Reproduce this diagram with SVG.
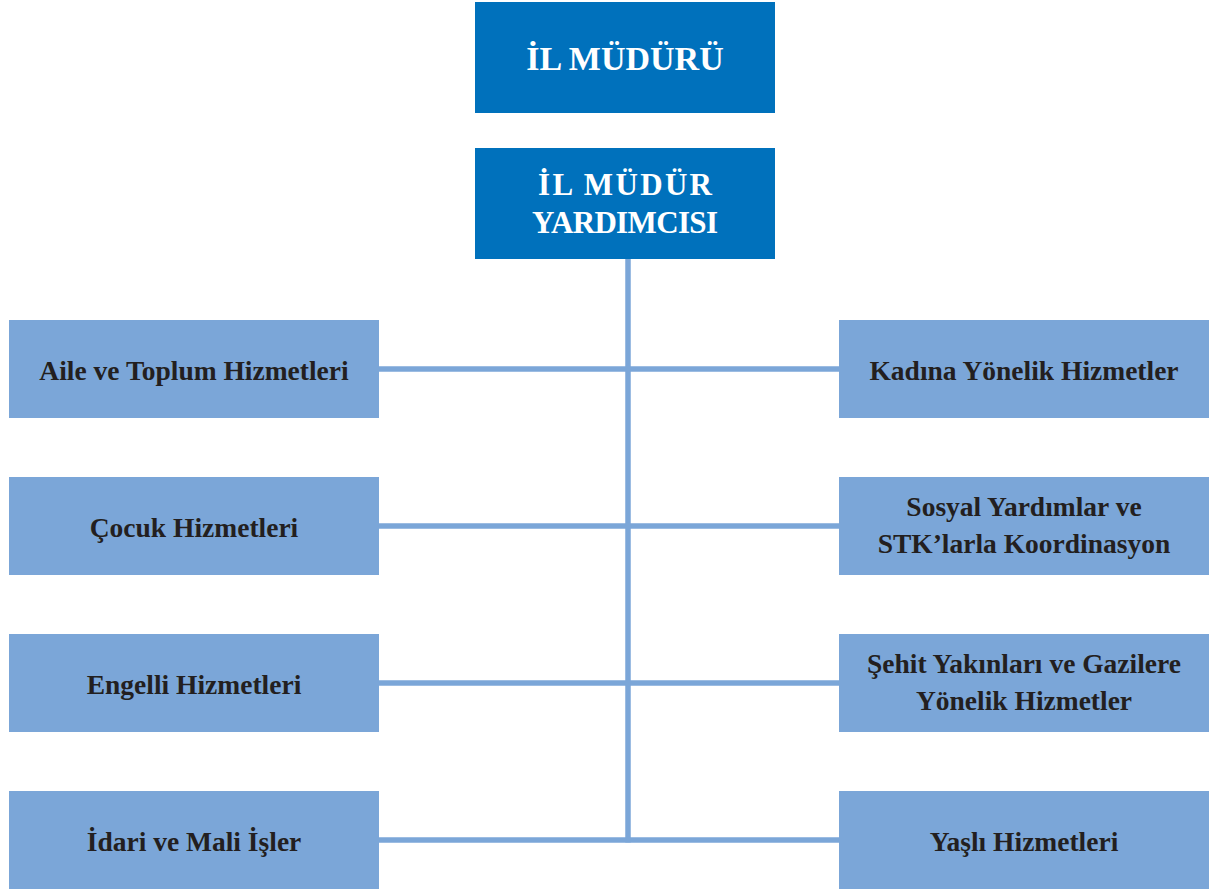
<svg xmlns="http://www.w3.org/2000/svg" width="1210" height="893" viewBox="0 0 1210 893">
<style>
.top{fill:#0071BC}
.box{fill:#7BA6D8}
.tt{font-family:"Liberation Serif",serif;font-weight:bold;font-size:31px;fill:#ffffff;text-anchor:middle}
.bt{font-family:"Liberation Serif",serif;font-weight:bold;font-size:27.5px;fill:#231F20;text-anchor:middle}
.ln{stroke:#7BA6D8;stroke-width:5.5;fill:none}
</style>
<rect width="1210" height="893" fill="#ffffff"/>
<g id="connectors">
<line class="ln" x1="628" y1="259" x2="628" y2="842.5"/>
<line class="ln" x1="379" y1="369" x2="839" y2="369"/>
<line class="ln" x1="379" y1="526" x2="839" y2="526"/>
<line class="ln" x1="379" y1="683" x2="839" y2="683"/>
<line class="ln" x1="379" y1="840" x2="839" y2="840"/>
</g>
<g id="il-muduru"><rect class="top" x="475" y="2" width="300" height="111"/><text class="tt" x="625" y="70" style="font-size:34px">İL MÜDÜRÜ</text></g>
<g id="il-mudur-yardimcisi"><rect class="top" x="475" y="148" width="300" height="111"/><text class="tt" x="625" y="195" textLength="174" lengthAdjust="spacing">İL MÜDÜR</text><text class="tt" x="625" y="233" textLength="186" lengthAdjust="spacing">YARDIMCISI</text></g>
<g id="aile"><rect class="box" x="9" y="320" width="370" height="98"/><text class="bt" x="194" y="380">Aile ve Toplum Hizmetleri</text></g>
<g id="cocuk"><rect class="box" x="9" y="477" width="370" height="98"/><text class="bt" x="194" y="537">Çocuk Hizmetleri</text></g>
<g id="engelli"><rect class="box" x="9" y="634" width="370" height="98"/><text class="bt" x="194" y="694">Engelli Hizmetleri</text></g>
<g id="idari"><rect class="box" x="9" y="791" width="370" height="98"/><text class="bt" x="194" y="851">İdari ve Mali İşler</text></g>
<g id="kadin"><rect class="box" x="839" y="320" width="370" height="98"/><text class="bt" x="1024" y="380">Kadına Yönelik Hizmetler</text></g>
<g id="sosyal"><rect class="box" x="839" y="477" width="370" height="98"/><text class="bt" x="1024" y="516">Sosyal Yardımlar ve</text><text class="bt" x="1024" y="553">STK’larla Koordinasyon</text></g>
<g id="sehit"><rect class="box" x="839" y="634" width="370" height="98"/><text class="bt" x="1024" y="673">Şehit Yakınları ve Gazilere</text><text class="bt" x="1024" y="710">Yönelik Hizmetler</text></g>
<g id="yasli"><rect class="box" x="839" y="791" width="370" height="98"/><text class="bt" x="1024" y="851">Yaşlı Hizmetleri</text></g>
</svg>
